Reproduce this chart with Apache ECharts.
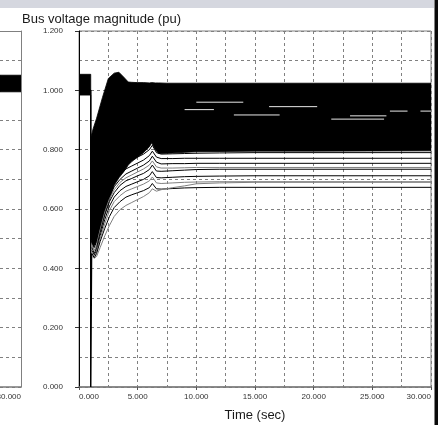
<!DOCTYPE html>
<html>
<head>
<meta charset="utf-8">
<script src="https://cdn.jsdelivr.net/npm/echarts@6/dist/echarts.min.js"></script>
<style>
  html, body { margin: 0; padding: 0; background: #ffffff; }
  #chart { width: 438px; height: 425px; }
</style>
</head>
<body>
<div id="chart"></div>
<script>
// Time axis (s) and y ticks (pu)
const xTicks = [0, 5, 10, 15, 20, 25, 30];
const yTicks = [0, 0.2, 0.4, 0.6, 0.8, 1.0, 1.2];

// Envelope of the dense bundle of bus voltages (drawn as a solid band)
const bandTime  = [0, 1.0, 1.001, 1.2, 1.5, 2.0, 2.5, 3.0, 3.4, 3.8, 4.2, 4.5, 5.0, 5.5, 6.0, 6.2, 6.5, 6.8, 7.5, 10, 15, 20, 30];
const bandUpper = [1.054, 1.054, 0.840, 0.870, 0.906, 0.976, 1.040, 1.058, 1.061, 1.045, 1.028, 1.027, 1.026, 1.026, 1.025, 1.026, 1.025, 1.025, 1.024, 1.024, 1.024, 1.024, 1.024];
const bandLower = [0.984, 0.984, 0.500, 0.470, 0.490, 0.560, 0.620, 0.680, 0.705, 0.725, 0.748, 0.760, 0.775, 0.790, 0.810, 0.823, 0.800, 0.787, 0.788, 0.793, 0.795, 0.795, 0.796];

// Individual low-voltage buses after fault clearing
const traceTime = [1.1, 1.3, 1.5, 1.8, 2.2, 2.6, 3.0, 3.5, 4.0, 4.5, 5.0, 5.5, 6.0, 6.25, 6.6, 7.0, 8.0, 9.0, 10.0, 12.0, 15.0, 20.0, 30.0];
const busA = [0.520, 0.500, 0.520, 0.570, 0.630, 0.680, 0.710, 0.735, 0.755, 0.765, 0.775, 0.785, 0.800, 0.815, 0.790, 0.785, 0.786, 0.787, 0.788, 0.789, 0.790, 0.790, 0.790];
const busB = [0.500, 0.480, 0.500, 0.550, 0.610, 0.660, 0.690, 0.715, 0.735, 0.745, 0.755, 0.765, 0.780, 0.795, 0.775, 0.770, 0.770, 0.771, 0.771, 0.771, 0.771, 0.771, 0.771];
const busC = [0.490, 0.470, 0.490, 0.540, 0.600, 0.645, 0.675, 0.700, 0.718, 0.728, 0.738, 0.748, 0.762, 0.778, 0.758, 0.752, 0.753, 0.753, 0.754, 0.754, 0.754, 0.754, 0.754];
const busD = [0.480, 0.460, 0.480, 0.530, 0.590, 0.635, 0.665, 0.690, 0.705, 0.715, 0.725, 0.735, 0.748, 0.762, 0.742, 0.738, 0.738, 0.739, 0.740, 0.740, 0.740, 0.740, 0.740];
const busE = [0.470, 0.450, 0.470, 0.520, 0.580, 0.625, 0.655, 0.680, 0.695, 0.703, 0.712, 0.720, 0.733, 0.748, 0.728, 0.727, 0.729, 0.731, 0.733, 0.734, 0.734, 0.734, 0.734];
const busF = [0.460, 0.445, 0.460, 0.510, 0.565, 0.610, 0.640, 0.662, 0.676, 0.684, 0.692, 0.700, 0.712, 0.726, 0.706, 0.705, 0.707, 0.709, 0.710, 0.711, 0.712, 0.712, 0.712];
const busG = [0.455, 0.440, 0.455, 0.500, 0.550, 0.595, 0.625, 0.645, 0.660, 0.668, 0.676, 0.684, 0.695, 0.708, 0.688, 0.686, 0.688, 0.690, 0.691, 0.692, 0.692, 0.692, 0.692];
const busH = [0.450, 0.435, 0.450, 0.490, 0.535, 0.575, 0.605, 0.625, 0.640, 0.648, 0.655, 0.662, 0.672, 0.686, 0.668, 0.667, 0.669, 0.671, 0.672, 0.673, 0.673, 0.673, 0.673];
const busI = [0.440, 0.434, 0.440, 0.470, 0.510, 0.545, 0.575, 0.598, 0.612, 0.622, 0.632, 0.642, 0.655, 0.668, 0.660, 0.665, 0.672, 0.678, 0.685, 0.688, 0.690, 0.690, 0.690];
const busColors = ['#000000', '#000000', '#000000', '#808080', '#000000', '#000000', '#808080', '#000000', '#808080'];

// Faulted bus: collapses to zero during the fault
const faultTime = [0, 1.0, 1.0, 1.07, 1.07];
const faultVolt = [1.0, 1.0, 0.0, 0.0, 0.45];

// Light gaps inside the dense band (segments separated by null)
const gapTime = [13.2, 17.1, null, 16.2, 20.3, null, 23.1, 26.2, null, 26.5, 28.0, null, 29.1, 30.0, null, 10.0, 14.0, null, 21.5, 26.0, null, 9.0, 11.5];
const gapVolt = [0.917, 0.917, null, 0.945, 0.945, null, 0.914, 0.914, null, 0.930, 0.930, null, 0.930, 0.930, null, 0.960, 0.960, null, 0.903, 0.903, null, 0.935, 0.935];

// Neighbouring panel (only its last stretch is in view)
const sideTicks = [27.5, 30];
const sideTime  = [27.5, 30];
const sideUpper = [1.051, 1.051];
const sideLower = [0.995, 0.995];

const segments = (xs, ys) => xs.map((x, i) => (x === null ? '-' : [x, ys[i]]));
const pairs = (xs, ys) => xs.map((x, i) => [x, ys[i]]);

const font = 'Liberation Sans, Arial, sans-serif';
const gridLine = { color: '#808080', type: [3, 3], width: 1 };

// Filled band between two envelopes, drawn as one polygon
function bandSeries(xi, yi, time, lower, upper) {
  return {
    type: 'custom', xAxisIndex: xi, yAxisIndex: yi, clip: true, silent: true, z: 2,
    data: time.map((t, i) => [t, lower[i], upper[i]]),
    encode: { x: 0, y: [1, 2] },
    renderItem(params, api) {
      if (params.dataIndex !== 0) return null;
      const pts = [];
      for (let i = 0; i < time.length; i++) pts.push(api.coord([time[i], upper[i]]));
      for (let i = time.length - 1; i >= 0; i--) pts.push(api.coord([time[i], lower[i]]));
      return { type: 'polygon', shape: { points: pts },
        style: { fill: '#000', stroke: '#000', lineWidth: 0.8 } };
    }
  };
}

const mainY = {
  type: 'value', gridIndex: 0, min: yTicks[0], max: yTicks[yTicks.length - 1], interval: yTicks[1] - yTicks[0],
  axisLine: { show: true, lineStyle: { color: '#000', width: 1 } },
  axisTick: { show: true, length: 4, lineStyle: { color: '#333' } },
  minorTick: { show: false, splitNumber: 2 },
  axisLabel: { fontFamily: font, fontSize: 8, color: '#333', margin: 16, formatter: v => v.toFixed(3) },
  splitLine: { show: true, lineStyle: gridLine },
  minorSplitLine: { show: true, lineStyle: gridLine }
};
const sideY = {
  type: 'value', gridIndex: 1, position: 'right', min: yTicks[0], max: yTicks[yTicks.length - 1], interval: yTicks[1] - yTicks[0],
  axisLine: { show: true, lineStyle: { color: '#808080', width: 1 } },
  axisTick: { show: false }, minorTick: { show: false, splitNumber: 2 },
  axisLabel: { show: false },
  splitLine: { show: true, lineStyle: gridLine },
  minorSplitLine: { show: true, lineStyle: gridLine }
};
const mainX = {
  type: 'value', gridIndex: 0, min: xTicks[0], max: xTicks[xTicks.length - 1], interval: xTicks[1] - xTicks[0],
  name: 'Time (sec)', nameLocation: 'middle', nameGap: 22,
  nameTextStyle: { fontFamily: font, fontSize: 13, color: '#1a1a1a' },
  axisLine: { show: true, lineStyle: { color: '#7a7a7a', width: 1.5 } },
  axisTick: { show: true, length: 3, lineStyle: { color: '#555' } },
  minorTick: { show: false, splitNumber: 2 },
  axisLabel: { fontFamily: font, fontSize: 8, color: '#333', margin: 6,
    formatter: v => v.toFixed(3), alignMinLabel: 'left', alignMaxLabel: 'right' },
  splitLine: { show: true, lineStyle: gridLine },
  minorSplitLine: { show: true, lineStyle: gridLine }
};
const sideX = {
  type: 'value', gridIndex: 1, min: sideTicks[0], max: sideTicks[1], interval: sideTicks[1] - sideTicks[0],
  axisLine: { show: true, lineStyle: { color: '#7a7a7a', width: 1.5 } },
  axisTick: { show: false },
  axisLabel: { fontFamily: font, fontSize: 8, color: '#333', margin: 6, showMinLabel: false,
    formatter: v => v.toFixed(3), alignMaxLabel: 'right' },
  splitLine: { show: false }
};
const sideTopX = {
  type: 'value', gridIndex: 1, position: 'top', min: sideTicks[0], max: sideTicks[1],
  axisLine: { show: true, lineStyle: { color: '#808080', width: 1 } },
  axisTick: { show: false }, axisLabel: { show: false }, splitLine: { show: false }
};

const busList = [busA, busB, busC, busD, busE, busF, busG, busH, busI];

const series = [
  bandSeries(0, 0, bandTime, bandLower, bandUpper),
  bandSeries(1, 1, sideTime, sideLower, sideUpper),
  { type: 'line', xAxisIndex: 0, yAxisIndex: 0, symbol: 'none', silent: true,
    lineStyle: { width: 1.5, color: '#000' }, data: pairs(faultTime, faultVolt), z: 3 },
  { type: 'line', xAxisIndex: 0, yAxisIndex: 0, symbol: 'none', silent: true, connectNulls: false,
    lineStyle: { width: 1, color: '#e8e8e8' }, data: segments(gapTime, gapVolt), z: 4 }
];
busList.forEach((bus, k) => {
  series.push({ type: 'line', xAxisIndex: 0, yAxisIndex: 0, symbol: 'none', silent: true,
    lineStyle: { width: 1, color: busColors[k] }, data: pairs(traceTime, bus), z: 3 });
});

const chart = echarts.init(document.getElementById('chart'), null, { renderer: 'canvas' });
chart.setOption({
  animation: false,
  backgroundColor: '#ffffff',
  title: {
    text: 'Bus voltage magnitude (pu)', left: 17, top: 8,
    textStyle: { fontFamily: font, fontSize: 13, fontWeight: 'normal', color: '#1a1a1a' }
  },
  graphic: [
    { type: 'rect', shape: { x: 0, y: 0, width: 434, height: 8 }, style: { fill: '#d5d7df' }, silent: true },
    { type: 'rect', shape: { x: 434.5, y: 0, width: 4, height: 425 }, style: { fill: '#0a0a0a' }, silent: true }
  ],
  grid: [
    { left: 79, right: 7, top: 31, bottom: 38, show: true, borderColor: '#808080', borderWidth: 1, outerBoundsMode: 'none' },
    { left: 0, width: 21, top: 31, bottom: 38, show: false, outerBoundsMode: 'none' }
  ],
  xAxis: [mainX, sideX, sideTopX],
  yAxis: [mainY, sideY],
  series
});
</script>
</body>
</html>
